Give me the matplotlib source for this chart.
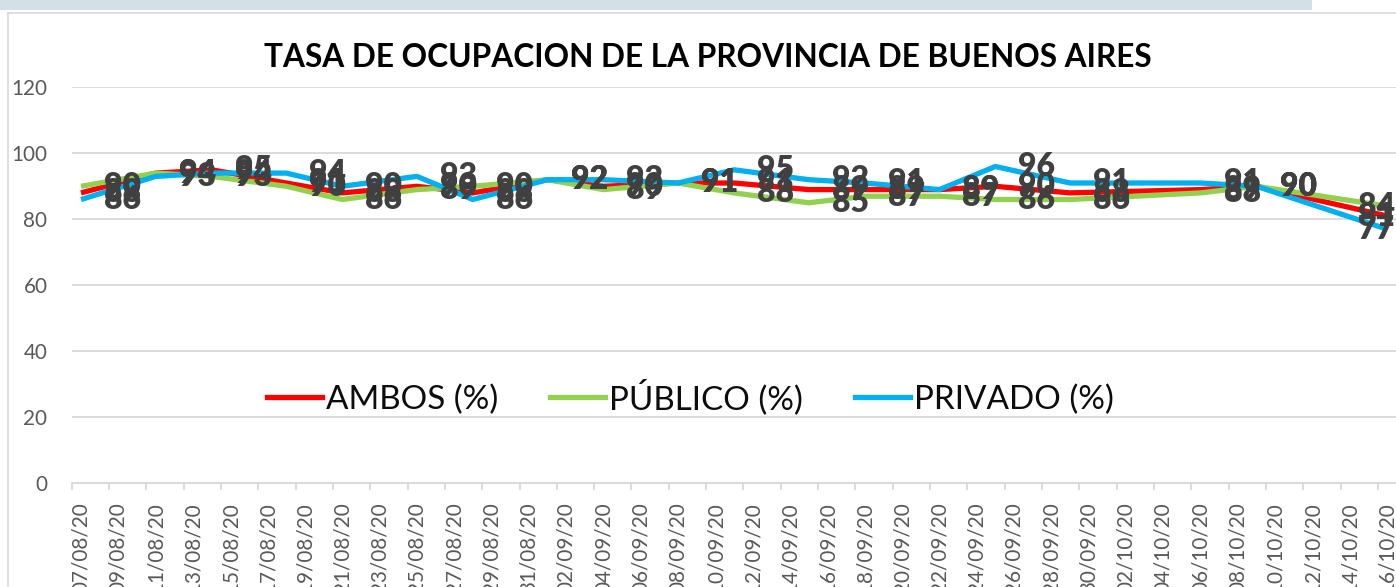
import datetime as dt
import matplotlib
matplotlib.use('Agg')
import matplotlib.pyplot as plt
import matplotlib.dates as mdates
import matplotlib.transforms as mtransforms
from matplotlib.lines import Line2D
from matplotlib.patches import Rectangle
import pandas as pd

# ---------------- data ----------------
titulo = 'TASA DE OCUPACION DE LA PROVINCIA DE BUENOS AIRES'
series_nombres = ['AMBOS (%)', 'PÚBLICO (%)', 'PRIVADO (%)']
fechas = ['07/08/20', '11/08/20', '14/08/20', '18/08/20', '21/08/20', '25/08/20',
          '28/08/20', '01/09/20', '04/09/20', '08/09/20', '11/09/20', '15/09/20',
          '18/09/20', '22/09/20', '25/09/20', '29/09/20', '06/10/20', '09/10/20',
          '16/10/20']
ambos = [88, 94, 95, 91, 88, 90, 88, 92, 90, 91, 91, 89, 89, 89, 90, 88, 89, 90, 81]
publico = [90, 94, 93, 90, 86, 89, 90, 92, 89, 91, 88, 85, 87, 87, 86, 86, 88, 90, 84]
privado = [86, 93, 94, 94, 90, 93, 86, 92, 92, 91, 95, 92, 91, 89, 96, 91, 91, 90, 77]
y_ticks = [0, 20, 40, 60, 80, 100, 120]
eje_inicio, eje_fin = '07/08/20', '16/10/20'

colores = ['#FF0000', '#92D050', '#00B0F0']

# ---------------- figure ----------------
W, H, DPI = 1396, 587, 100
plt.rcParams['font.family'] = ['Lato', 'DejaVu Sans']
fig = plt.figure(figsize=(W / DPI, H / DPI), dpi=DPI)
fig.patch.set_facecolor('white')
renderer = fig.canvas.get_renderer()


def fit_size(s, target_px, weight='normal', base=20.0):
    t = fig.text(0, 0, s, fontsize=base, fontweight=weight)
    w = t.get_window_extent(renderer).width
    t.remove()
    return base * target_px / w


# decorations: top band and chart-area border
fig.add_artist(Rectangle((0, 1 - 10 / H), 1312 / W, 10 / H, transform=fig.transFigure,
                         facecolor='#d3e0e6', edgecolor='none'))
fig.add_artist(Line2D([8 / W, 1], [1 - 12.5 / H, 1 - 12.5 / H], transform=fig.transFigure,
                      color='#d9d9d9', lw=1.2))
fig.add_artist(Line2D([8 / W, 8 / W], [0, 1 - 12.5 / H], transform=fig.transFigure,
                      color='#d9d9d9', lw=1.2))

left_px, right_px, top_px, bot_px = 71.7, 1396.5, 87.3, 483.3
ax = fig.add_axes([left_px / W, 1 - bot_px / H, (right_px - left_px) / W, (bot_px - top_px) / H])
ax.set_facecolor('none')

x = [dt.datetime.strptime(f, '%d/%m/%y') for f in fechas]
x0 = dt.datetime.strptime(eje_inicio, '%d/%m/%y')
x1 = dt.datetime.strptime(eje_fin, '%d/%m/%y')
half = dt.timedelta(hours=12)
ax.set_xlim(x0 - half, x1 + half)
ax.set_ylim(0, 120)

lw = 3.8
for vals, col, name, z in zip([ambos, publico, privado], colores, series_nombres, [3, 4, 5]):
    ax.plot(x, vals, color=col, lw=lw, solid_joinstyle='round', solid_capstyle='butt',
            label=name, zorder=z)

# grid + axes
ax.set_yticks(y_ticks)
ax.yaxis.grid(True, color='#d9d9d9', lw=1.3, zorder=0)
ax.set_axisbelow(True)
for s in ['left', 'right', 'top']:
    ax.spines[s].set_visible(False)
ax.spines['bottom'].set_color('#d9d9d9')
ax.spines['bottom'].set_linewidth(1.3)

tick_fs = fit_size('100', 36)
major = pd.date_range(x0, x1, freq='2D')
ax.set_xticks(mdates.date2num(major.to_pydatetime()))
ax.xaxis.set_major_formatter(mdates.DateFormatter('%d/%m/%y'))
minor = [m - half for m in major.to_pydatetime()] + [x1 + half]
ax.set_xticks(mdates.date2num(minor), minor=True)
ax.tick_params(axis='x', which='major', length=0, pad=14, labelsize=tick_fs,
               labelcolor='#595959', labelrotation=90)
ax.tick_params(axis='x', which='minor', length=5, width=1.3, color='#d9d9d9')
ax.tick_params(axis='y', length=0, pad=17.5, labelsize=tick_fs, labelcolor='#595959')

# data labels
lab_w = 'heavy'
lab_fs = fit_size('92', 37, weight=lab_w)
off_pt = 23 * 72 / DPI
edge_tr = mtransforms.blended_transform_factory(fig.transFigure, ax.transData)
for vals in [ambos, publico, privado]:
    for i, (xi, v) in enumerate(zip(x, vals)):
        if i == len(x) - 1:
            ax.text(1 - 1 / W, v, str(v), transform=edge_tr, ha='right', va='center',
                    fontsize=lab_fs, fontweight=lab_w, color='#404040', zorder=10,
                    clip_on=False)
        else:
            ax.annotate(str(v), (xi, v), xytext=(off_pt, 0), textcoords='offset points',
                        ha='left', va='center', fontsize=lab_fs, fontweight=lab_w,
                        color='#404040', zorder=10, annotation_clip=False)

# title
title_fs = fit_size(titulo, 891, weight='bold')
fig.text(707.5 / W, 1 - 57.5 / H, titulo, ha='center', va='center', fontsize=title_fs,
         fontweight='bold', color='#000000')

# legend
leg_fs = fit_size('AMBOS (%)', 172)
leg_px = leg_fs * DPI / 72
handles = [Line2D([], [], color=c, lw=lw) for c in colores]
ax.legend(handles, series_nombres, ncol=3, loc='center',
          bbox_to_anchor=(690 / W, 1 - 397 / H), bbox_transform=fig.transFigure,
          frameon=False, fontsize=leg_fs, handlelength=55 / leg_px,
          handletextpad=4 / leg_px, columnspacing=52 / leg_px, labelcolor='#0d0d0d',
          borderaxespad=0, borderpad=0)

fig.savefig('out.png', dpi=DPI, facecolor='white')
